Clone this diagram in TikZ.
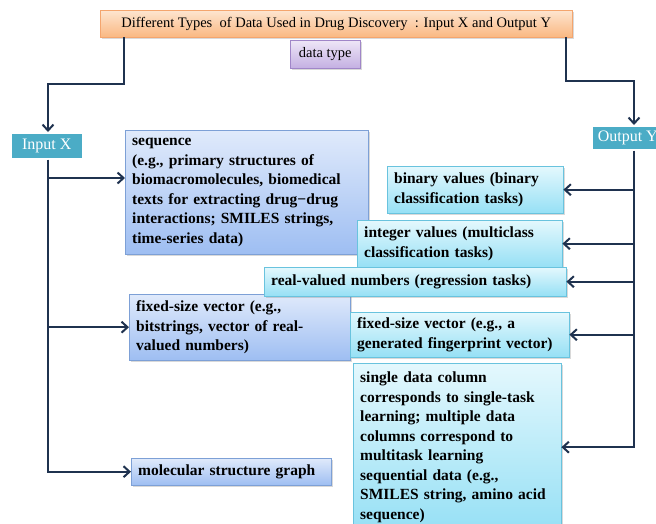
\documentclass[tikz,border=0pt]{standalone}
\usepackage{fontspec}
\setmainfont{Liberation Serif}
\usepackage{tikz}
\usetikzlibrary{arrows.meta, shadows}
\definecolor{linenavy}{RGB}{31, 50, 79}
\definecolor{headteal}{RGB}{75, 172, 198}
\definecolor{titletop}{RGB}{253, 229, 208}
\definecolor{titlebot}{RGB}{250, 184, 130}
\definecolor{titleedge}{RGB}{244, 165, 110}
\definecolor{typetop}{RGB}{238, 230, 247}
\definecolor{typebot}{RGB}{196, 176, 226}
\definecolor{typeedge}{RGB}{160, 134, 200}
\definecolor{intop}{RGB}{224, 234, 251}
\definecolor{inbot}{RGB}{158, 190, 242}
\definecolor{inedge}{RGB}{125, 160, 214}
\definecolor{outtop}{RGB}{228, 248, 253}
\definecolor{outbot}{RGB}{150, 224, 245}
\definecolor{outedge}{RGB}{105, 195, 222}
\newcommand{\boxfont}{\fontsize{15.5}{19.5}\selectfont\bfseries\spaceskip=0.4em plus 0.1em\relax}

\begin{document}
\begin{tikzpicture}[
        x=1pt, y=-1pt,
        font=\fontsize{15.5}{19.5}\selectfont,
        dropsh/.style={drop shadow={shadow xshift=1.5pt, shadow yshift=-1.5pt, opacity=0.3}},
        titlebox/.style={anchor=north west, draw=titleedge, top color=titletop, bottom color=titlebot, inner sep=0pt, font=\fontsize{14.5}{17}\selectfont, dropsh},
        typebox/.style={anchor=north west, draw=typeedge, top color=typetop, bottom color=typebot, inner sep=0pt, font=\fontsize{14.5}{17}\selectfont, dropsh},
        headbox/.style={anchor=north west, draw=white, line width=1.5pt, fill=headteal, text=white, inner sep=0pt, font=\fontsize{16}{19}\selectfont, dropsh},
        inbox/.style={anchor=north west, draw=inedge, top color=intop, bottom color=inbot, align=left, inner xsep=7pt, inner ysep=0pt, font=\boxfont, dropsh},
        outbox/.style={anchor=north west, draw=outedge, top color=outtop, bottom color=outbot, align=left, inner xsep=7pt, inner ysep=0pt, font=\boxfont, dropsh},
        arr/.style={-{Straight Barb[length=6pt, width=11pt, line width=2pt]}, line width=2pt, draw=linenavy},
    ]
        \useasboundingbox (0,0) rectangle (656,523);
        \clip (0,0) rectangle (656,523);

        % --- Title and data type ---
        \node[titlebox, minimum width=472pt, minimum height=27pt] (title) at (100,10)
            {Different Types~ of Data Used in Drug Discovery~ : Input X and Output Y};
        \node[typebox, minimum width=70pt, minimum height=28pt] (dtype) at (290,40) {data type};

        % --- Input X / Output Y heads ---
        \node[headbox, minimum width=72pt, minimum height=26pt] (inX) at (10,132) {Input X};
        \node[headbox, minimum width=72pt, minimum height=24pt] (outY) at (591,125) {Output Y};

        % --- Input side ---
        \node[inbox, text width=229pt, minimum height=124pt] (seq) at (125,130)
            {sequence\\(e.g., primary structures of\\biomacromolecules, biomedical\\texts for extracting drug−drug\\interactions; SMILES strings,\\time-series data)};
        \node[outbox, text width=191pt, minimum height=47pt] (int) at (357,220)
            {integer values (multiclass\\classification tasks)};
        \node[inbox, text width=207pt, minimum height=66pt] (fixX) at (129,294)
            {fixed-size vector (e.g.,\\bitstrings, vector of real-\\valued numbers)};
        \node[inbox, text width=186pt, minimum height=27pt] (mol) at (131,458)
            {molecular structure graph};

        % --- Output side ---
        \node[outbox, text width=162pt, minimum height=47pt] (bin) at (387,166)
            {binary values (binary\\classification tasks)};
        \node[outbox, text width=288pt, minimum height=29pt] (real) at (264,267)
            {real-valued numbers (regression tasks)};
        \node[outbox, text width=205pt, minimum height=45pt] (fixY) at (350,312)
            {fixed-size vector (e.g., a\\generated fingerprint vector)};
        \node[outbox, text width=194pt, minimum height=168pt] (single) at (353,363)
            {single data column\\corresponds to single-task\\learning; multiple data\\columns correspond to\\multitask learning\\sequential data (e.g.,\\SMILES string, amino acid\\sequence)};

        % --- Title to heads ---
        \coordinate (lbend) at (48,84);
        \coordinate (rbend) at (634,81);
        \draw[arr] ([xshift=24pt]title.south west) |- (lbend) -- (lbend |- inX.north);
        \draw[arr] ([xshift=-6pt]title.south east) |- (rbend) -- (rbend |- outY.north);

        % --- Input bus ---
        \coordinate (seqin) at (125,178);
        \draw[arr] (lbend |- inX.south) |- (mol.west);
        \draw[arr] (lbend |- seqin) -- (seqin);
        \draw[arr] (lbend |- fixX.west) -- (fixX.west);

        % --- Output bus ---
        \draw[arr] (rbend |- outY.south) |- (single.east);
        \draw[arr] (rbend |- bin.east) -- (bin.east);
        \draw[arr] (rbend |- int.east) -- (int.east);
        \draw[arr] (rbend |- real.east) -- (real.east);
        \draw[arr] (rbend |- fixY.east) -- (fixY.east);

    \end{tikzpicture}
\end{document}
